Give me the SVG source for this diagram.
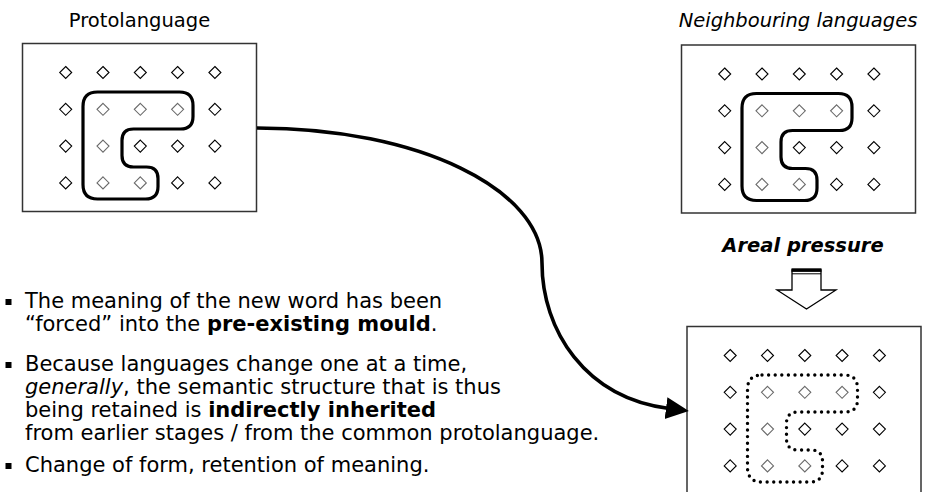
<svg xmlns="http://www.w3.org/2000/svg" xmlns:xlink="http://www.w3.org/1999/xlink" width="944" height="492" viewBox="0 0 944 492">
<style>
  text { font-family: "DejaVu Sans", Verdana, sans-serif; fill: #000; }
  .title { font-size: 19.5px; }
  .body { font-size: 21px; }
  .frame { fill: #fff; stroke: #333; stroke-width: 1.5; }
  .dia { fill: none; stroke: #000; stroke-width: 1.1; }
  .dia-in { fill: none; stroke: #6a6a6a; stroke-width: 1.1; }
  .mould { fill: none; stroke: #000; stroke-width: 3.2; stroke-linejoin: round; }
  .mould-dot { fill: none; stroke: #000; stroke-width: 3.4; stroke-linecap: round; stroke-dasharray: 0 6.6; }
  .conn { fill: none; stroke: #000; stroke-width: 3.6; }
  .bullet { fill: #000; }
</style>
<defs>
  <path id="d" d="M0,-6 L6,0 L0,6 L-6,0 Z"/>
  <path id="shape" d="M75,48.5 L157,48.5 Q170.5,48.5 170.5,62 L170.5,73 Q170.5,85.5 158,85.5 L111,85.5 Q99.5,85.5 99.5,97 L99.5,112 Q99.5,123.5 111,123.5 L124,123.5 Q135.5,123.5 135.5,135 L135.5,143 Q135.5,155.5 123,155.5 L75,155.5 Q60.5,155.5 60.5,141 L60.5,63 Q60.5,48.5 75,48.5 Z"/>
  <g id="grid">
    <use xlink:href="#d" href="#d" class="dia" x="43.2" y="29"/>
    <use xlink:href="#d" href="#d" class="dia" x="80.5" y="29"/>
    <use xlink:href="#d" href="#d" class="dia" x="117.8" y="29"/>
    <use xlink:href="#d" href="#d" class="dia" x="155.1" y="29"/>
    <use xlink:href="#d" href="#d" class="dia" x="192.4" y="29"/>
    <use xlink:href="#d" href="#d" class="dia" x="43.2" y="65.8"/>
    <use xlink:href="#d" href="#d" class="dia-in" x="80.5" y="65.8"/>
    <use xlink:href="#d" href="#d" class="dia-in" x="117.8" y="65.8"/>
    <use xlink:href="#d" href="#d" class="dia-in" x="155.1" y="65.8"/>
    <use xlink:href="#d" href="#d" class="dia" x="192.4" y="65.8"/>
    <use xlink:href="#d" href="#d" class="dia" x="43.2" y="102.6"/>
    <use xlink:href="#d" href="#d" class="dia-in" x="80.5" y="102.6"/>
    <use xlink:href="#d" href="#d" class="dia" x="117.8" y="102.6"/>
    <use xlink:href="#d" href="#d" class="dia" x="155.1" y="102.6"/>
    <use xlink:href="#d" href="#d" class="dia" x="192.4" y="102.6"/>
    <use xlink:href="#d" href="#d" class="dia" x="43.2" y="139.4"/>
    <use xlink:href="#d" href="#d" class="dia-in" x="80.5" y="139.4"/>
    <use xlink:href="#d" href="#d" class="dia-in" x="117.8" y="139.4"/>
    <use xlink:href="#d" href="#d" class="dia" x="155.1" y="139.4"/>
    <use xlink:href="#d" href="#d" class="dia" x="192.4" y="139.4"/>
  </g>
  <marker id="ah" markerUnits="userSpaceOnUse" markerWidth="26" markerHeight="24" refX="3" refY="11" orient="auto">
    <path d="M0,0 L23,11 L0,22 Z" fill="#000"/>
  </marker>
</defs>

<rect width="944" height="492" fill="#fff"/>

<g id="proto">
  <text class="title" x="139.5" y="27" text-anchor="middle">Protolanguage</text>
  <g transform="translate(22.5,43.5)">
    <rect class="frame" x="0" y="0" width="234" height="168"/>
    <use xlink:href="#grid" href="#grid"/>
    <use xlink:href="#shape" href="#shape" class="mould"/>
  </g>
</g>

<g id="neighbour">
  <text class="title" x="798" y="27" text-anchor="middle" font-style="italic">Neighbouring languages</text>
  <g transform="translate(681.5,45)">
    <rect class="frame" x="0" y="0" width="234" height="168"/>
    <use xlink:href="#grid" href="#grid"/>
    <use xlink:href="#shape" href="#shape" class="mould"/>
  </g>
</g>

<g id="pressure">
  <text class="title" x="803" y="252" text-anchor="middle" font-weight="bold" font-style="italic">Areal pressure</text>
  <polygon points="792,270 821,270 821,290 836,290 806.5,309 777,290 792,290" fill="#fff" stroke="#000" stroke-width="1.3" stroke-linejoin="miter"/>
  <rect x="791.5" y="268.3" width="30" height="3.6" fill="#000"/>
  <line x1="792" y1="273.8" x2="821" y2="273.8" stroke="#000" stroke-width="1"/>
</g>

<g id="result">
  <g transform="translate(687,326.5)">
    <rect class="frame" x="0" y="0" width="234" height="172"/>
    <use xlink:href="#grid" href="#grid"/>
    <use xlink:href="#shape" href="#shape" class="mould-dot"/>
  </g>
</g>

<g id="connectors">
  <path class="conn" d="M257,128 C420,128 542,190 542,263 C542,330 585,398 669,408.5" marker-end="url(#ah)"/>
</g>

<g id="notes">
  <rect class="bullet" x="5.5" y="299" width="6" height="6"/>
  <text class="body" x="25" y="308">The meaning of the new word has been</text>
  <text class="body" x="25" y="331">“forced” into the <tspan font-weight="bold">pre-existing mould</tspan>.</text>
  <rect class="bullet" x="5.5" y="362" width="6" height="6"/>
  <text class="body" x="25" y="371">Because languages change one at a time,</text>
  <text class="body" x="25" y="394"><tspan font-style="italic">generally</tspan>, the semantic structure that is thus</text>
  <text class="body" x="25" y="417">being retained is <tspan font-weight="bold">indirectly inherited</tspan></text>
  <text class="body" x="25" y="440">from earlier stages / from the common protolanguage.</text>
  <rect class="bullet" x="5.5" y="463" width="6" height="6"/>
  <text class="body" x="25" y="472">Change of form, retention of meaning.</text>
</g>
</svg>
